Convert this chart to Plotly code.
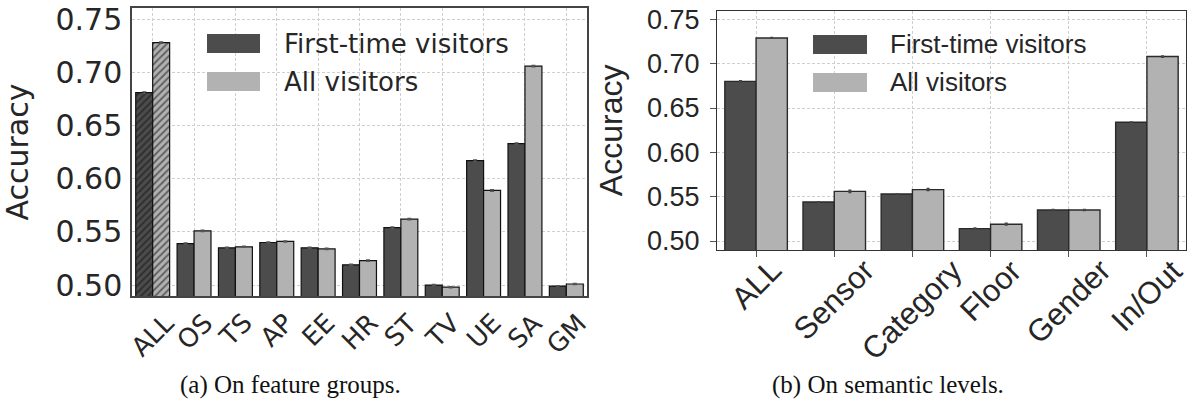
import plotly.graph_objects as go

# ---- data ----
feature_groups = ["ALL", "OS", "TS", "AP", "EE", "HR", "ST", "TV", "UE", "SA", "GM"]
fg_first_time = [0.681, 0.539, 0.535, 0.540, 0.535, 0.519, 0.554, 0.500, 0.617, 0.633, 0.499]
fg_all = [0.728, 0.551, 0.536, 0.541, 0.534, 0.523, 0.562, 0.498, 0.589, 0.706, 0.501]
fg_first_err = [0.0008, 0.0007, 0.0006, 0.0006, 0.0007, 0.0007, 0.0007, 0.0006, 0.0008, 0.0007, 0.0006]
fg_all_err = [0.0007, 0.0007, 0.0006, 0.0006, 0.0007, 0.0007, 0.0007, 0.0006, 0.0008, 0.0007, 0.0006]

semantic_levels = ["ALL", "Sensor", "Category", "Floor", "Gender", "In/Out"]
sl_first_time = [0.680, 0.544, 0.553, 0.514, 0.535, 0.634]
sl_all = [0.729, 0.556, 0.558, 0.519, 0.535, 0.708]
sl_first_err = [0.0015, 0.0012, 0.0012, 0.0015, 0.0013, 0.0012]
sl_all_err = [0.0012, 0.0020, 0.0020, 0.0018, 0.0015, 0.0015]

series_names = ["First-time visitors", "All visitors"]
y_ticks = [0.50, 0.55, 0.60, 0.65, 0.70, 0.75]

# ---- styling ----
W, H = 1190, 402
DARK, LIGHT = "#4c4c4c", "#b2b2b2"
TXT = "#262626"
SANS_A = "DejaVu Sans"
SANS_B = "Liberation Sans"


def px(x):
    return x / W


def py(y):
    return 1 - y / H


fig = go.Figure()

# panel (a): feature groups, first group hatched
hatch = ["/"] + [""] * (len(feature_groups) - 1)
for vals, errs, col, off in [(fg_first_time, fg_first_err, DARK, -0.41),
                             (fg_all, fg_all_err, LIGHT, 0.0)]:
    fig.add_trace(go.Bar(
        x=feature_groups, y=vals, xaxis="x", yaxis="y",
        width=0.41, offset=off, showlegend=False,
        marker=dict(color=col, line=dict(color="#111111", width=1.2),
                    pattern=dict(shape=hatch, fgcolor="#111111", size=5,
                                 solidity=0.4, fillmode="overlay")),
        error_y=dict(type="data", array=errs, color="#555555",
                     thickness=1.2, width=2),
    ))

# panel (b): semantic levels
for vals, errs, col, off in [(sl_first_time, sl_first_err, DARK, -0.4),
                             (sl_all, sl_all_err, LIGHT, 0.0)]:
    fig.add_trace(go.Bar(
        x=semantic_levels, y=vals, xaxis="x2", yaxis="y2",
        width=0.4, offset=off, showlegend=False,
        marker=dict(color=col, line=dict(color="#2a2a2a", width=1.4)),
        error_y=dict(type="data", array=errs, color="#444444",
                     thickness=3, width=0),
    ))

grid = dict(showgrid=True, gridcolor="#cfcfcf", gridwidth=1, griddash="3px,2px")

fig.update_layout(
    width=W, height=H, template="none",
    margin=dict(l=0, r=0, t=0, b=0),
    paper_bgcolor="white", plot_bgcolor="white",
    barmode="overlay",
    xaxis=dict(domain=[px(132), px(587)], range=[-0.5, 10.5], type="category",
               anchor="y", showticklabels=False, ticks="", automargin=False,
               showline=True, mirror=True, linecolor="#444444", linewidth=1.5,
               zeroline=False, **grid),
    yaxis=dict(domain=[py(296), py(8)], range=[0.4897, 0.7606], anchor="x",
               tickvals=y_ticks, tickformat=".2f", ticks="", automargin=False,
               tickfont=dict(family=SANS_A, size=30, color=TXT),
               ticklabelstandoff=2,
               title=dict(text="Accuracy", standoff=18,
                          font=dict(family=SANS_A, size=30, color=TXT)),
               showline=True, mirror=True, linecolor="#444444", linewidth=1.5,
               zeroline=False, **grid),
    xaxis2=dict(domain=[px(717), px(1186)], range=[-0.5, 5.5], type="category",
                anchor="y2", showticklabels=False, ticks="outside", ticklen=6,
                tickcolor="#555555", tickwidth=1.2, automargin=False,
                showline=True, mirror=True, linecolor="#333333", linewidth=1.3,
                zeroline=False, **grid),
    yaxis2=dict(domain=[py(250), py(10.7)], range=[0.4899, 0.7597], anchor="x2",
                tickvals=y_ticks, tickformat=".2f", ticks="outside", ticklen=6,
                tickcolor="#555555", tickwidth=1.2, automargin=False,
                ticklabelstandoff=5,
                tickfont=dict(family=SANS_B, size=27, color=TXT),
                title=dict(text="Accuracy", standoff=14,
                           font=dict(family=SANS_B, size=32, color=TXT)),
                showline=True, mirror=True, linecolor="#333333", linewidth=1.3,
                zeroline=False, **grid),
)

# rotated category labels, centred under each group
for cat in feature_groups:
    fig.add_annotation(x=cat, xref="x", y=py(305), yref="paper",
                       text=cat, textangle=-45, showarrow=False,
                       xanchor="center", yanchor="top",
                       font=dict(family=SANS_A, size=26, color=TXT))
for cat in semantic_levels:
    fig.add_annotation(x=cat, xref="x2", y=py(250), yref="paper",
                       text=cat, textangle=-45, showarrow=False,
                       xanchor="center", yanchor="top",
                       font=dict(family=SANS_B, size=31, color=TXT))

# legends: swatch + label
legend_specs = [
    (207, 260, [(34, 53), (72, 91)], 282, [44, 82], SANS_A, 26),
    (813, 867, [(35, 54), (73, 92)], 888, [44, 82], SANS_B, 26),
]
for x0, x1, rows, tx, tys, fam, size in legend_specs:
    for (y0, y1), ty, col, name in zip(rows, tys, [DARK, LIGHT], series_names):
        fig.add_shape(type="rect", xref="paper", yref="paper",
                      x0=px(x0), x1=px(x1), y0=py(y1), y1=py(y0),
                      fillcolor=col, line=dict(width=0))
        fig.add_annotation(x=px(tx), y=py(ty), xref="paper", yref="paper",
                           text=name, showarrow=False, xanchor="left",
                           yanchor="middle",
                           font=dict(family=fam, size=size, color=TXT))

# sub-figure captions
for cx, text in [(290, "(a) On feature groups."), (888, "(b) On semantic levels.")]:
    fig.add_annotation(x=px(cx), y=py(385), xref="paper", yref="paper",
                       text=text, showarrow=False, xanchor="center",
                       yanchor="middle",
                       font=dict(family="Liberation Serif", size=25, color="#111111"))

fig.write_html("out.html")
